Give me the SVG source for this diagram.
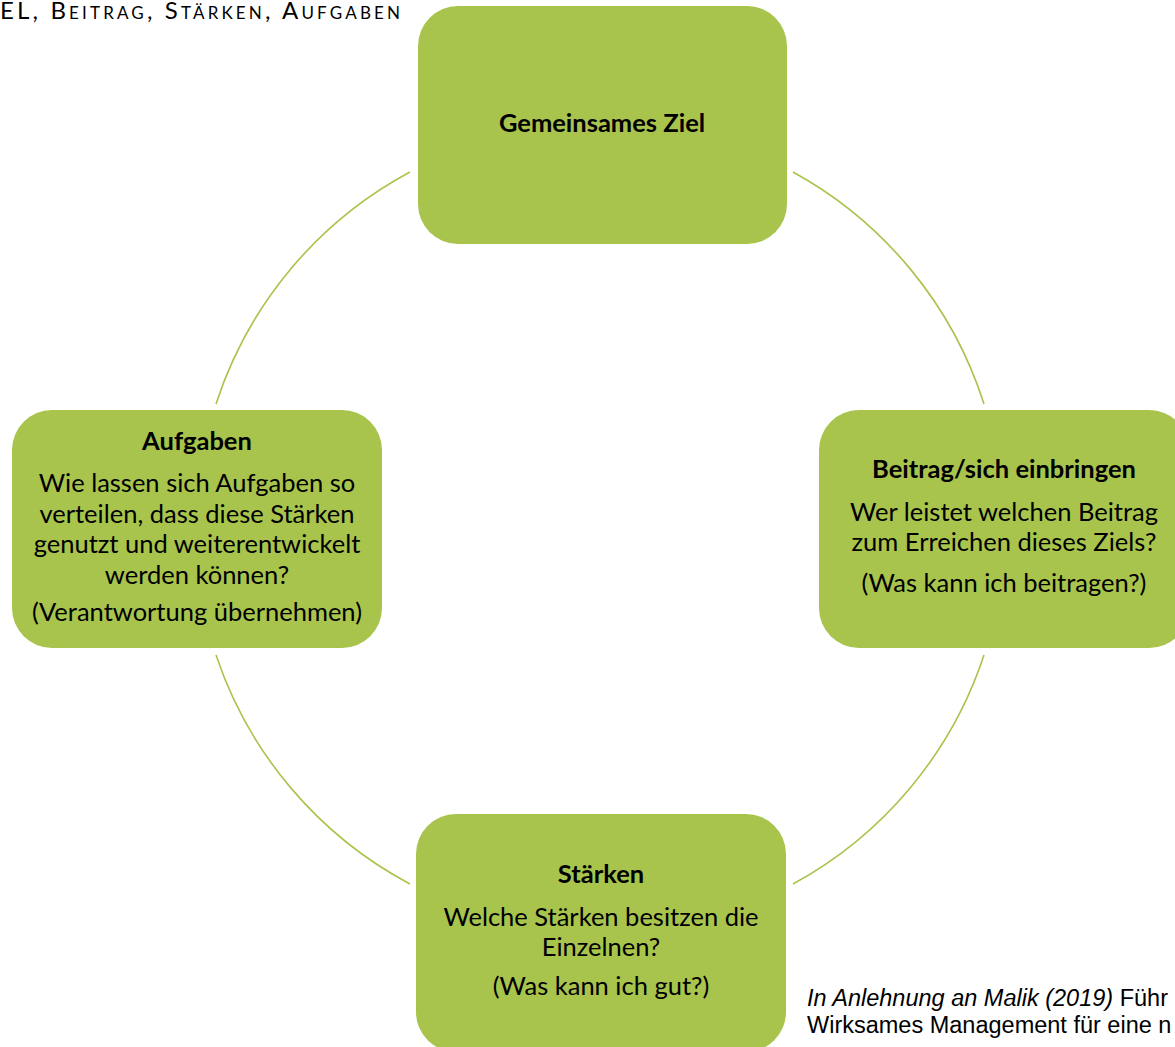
<svg xmlns="http://www.w3.org/2000/svg" width="1175" height="1047" viewBox="0 0 1175 1047">
<style>
.node{fill:#A8C44C;}
.t{font-family:Lato,"Open Sans",sans-serif;font-size:25.5px;fill:#000;text-anchor:middle;}
.b{font-weight:bold;}
.arc{fill:none;stroke:#A8C44C;stroke-width:1.6;}
.title{font-family:Lato,"Open Sans",sans-serif;font-size:24px;font-variant:small-caps;fill:#000;}
.cite{font-family:"Liberation Sans",Arial,sans-serif;font-size:23.5px;fill:#000;}
</style>
<rect width="1175" height="1047" fill="#fff"/>
<text class="title" x="0" y="19" textLength="400" lengthAdjust="spacing">EL, Beitrag, Stärken, Aufgaben</text>
<g id="connectors">
<path class="arc" d="M410,172 A405,405 0 0 0 216,404"/>
<path class="arc" d="M793,172 A405,405 0 0 1 984,404"/>
<path class="arc" d="M984,655 A405,405 0 0 1 793,884"/>
<path class="arc" d="M216,655 A405,405 0 0 0 410,884"/>
</g>
<g id="node-ziel">
<rect class="node" x="418" y="6" width="369" height="238" rx="40"/>
<text class="t b" x="602" y="132">Gemeinsames Ziel</text>
</g>
<g id="node-aufgaben">
<rect class="node" x="12" y="410" width="370" height="238" rx="40"/>
<text class="t b" x="197" y="450">Aufgaben</text>
<text class="t" x="197" y="492">Wie lassen sich Aufgaben so</text>
<text class="t" x="197" y="523">verteilen, dass diese Stärken</text>
<text class="t" x="197" y="553">genutzt und weiterentwickelt</text>
<text class="t" x="197" y="584">werden können?</text>
<text class="t" x="197" y="621">(Verantwortung übernehmen)</text>
</g>
<g id="node-beitrag">
<rect class="node" x="819" y="410" width="370" height="238" rx="40"/>
<text class="t b" x="1004" y="478">Beitrag/sich einbringen</text>
<text class="t" x="1004" y="521">Wer leistet welchen Beitrag</text>
<text class="t" x="1004" y="551">zum Erreichen dieses Ziels?</text>
<text class="t" x="1004" y="592">(Was kann ich beitragen?)</text>
</g>
<g id="node-staerken">
<rect class="node" x="416" y="814" width="370" height="238" rx="40"/>
<text class="t b" x="601" y="883">Stärken</text>
<text class="t" x="601" y="926">Welche Stärken besitzen die</text>
<text class="t" x="601" y="956">Einzelnen?</text>
<text class="t" x="601" y="995">(Was kann ich gut?)</text>
</g>
<text class="cite" x="807" y="1006"><tspan font-style="italic">In Anlehnung an Malik (2019)</tspan> Führ</text>
<text class="cite" x="807" y="1033">Wirksames Management für eine n</text>
</svg>
